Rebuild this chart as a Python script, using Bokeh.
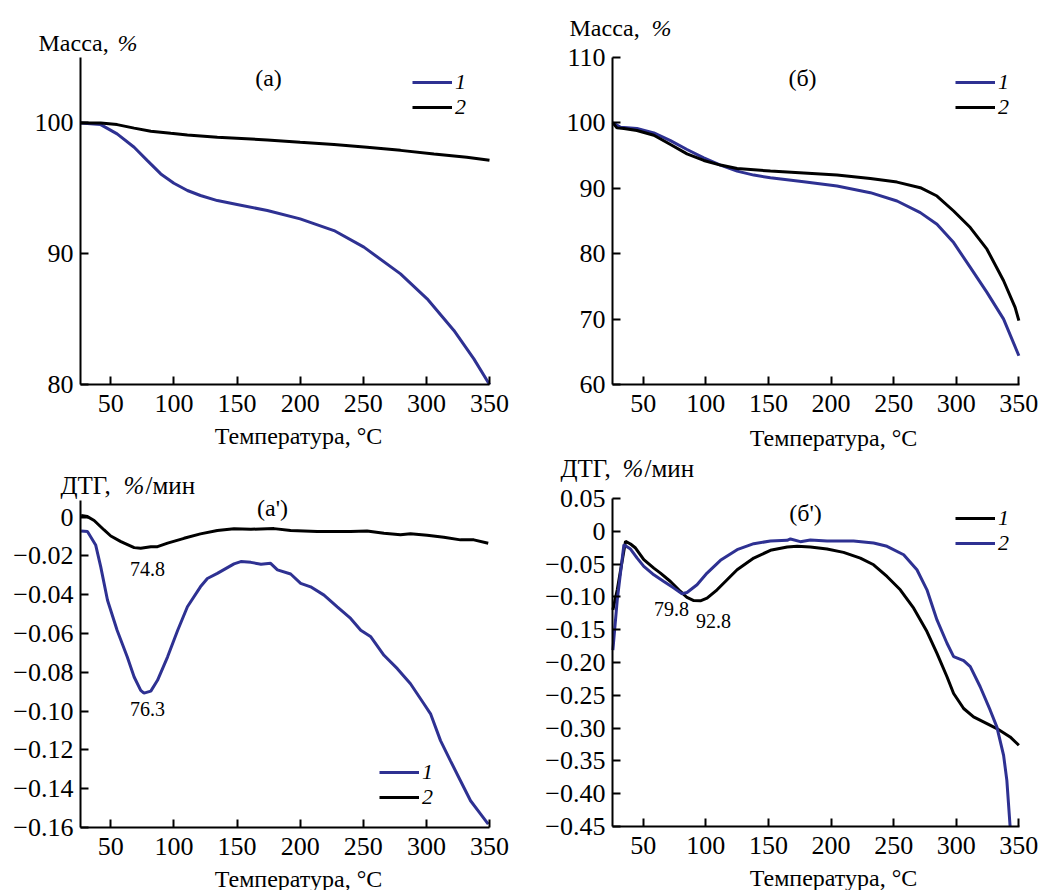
from bokeh.plotting import figure
from bokeh.layouts import column, row
from bokeh.models import (Range1d, FixedTicker, CustomJSTickFormatter, Label,
                          Legend, LegendItem)
from bokeh.embed import file_html
from bokeh.resources import INLINE

# ---------------- data ----------------
# (а) mass loss, %
a_t1 = [26, 42, 55, 68.5, 79, 89.6, 100, 110.7, 121, 134.4, 150, 174, 200, 226.8,
        250.5, 279.5, 300.6, 321.8, 337.6, 350]
a_m1 = [100, 99.87, 99.16, 98.14, 97.12, 96.10, 95.39, 94.83, 94.45, 94.06, 93.76,
        93.30, 92.66, 91.77, 90.50, 88.46, 86.55, 84.13, 81.96, 80.0]
a_t2 = [26, 42, 55, 68.5, 81.7, 97.5, 110.7, 134.4, 174, 200, 226.8, 253, 279.5,
        306, 332, 350]
a_m2 = [100, 100, 99.87, 99.6, 99.36, 99.2, 99.08, 98.9, 98.7, 98.52, 98.34, 98.14,
        97.9, 97.63, 97.38, 97.15]

# (б) mass loss, %
b_t1 = [25.8, 32, 45, 58.5, 71.8, 85, 98.4, 111.7, 125, 138.3, 151.6, 178.2, 204.8,
        231.4, 252.7, 271.3, 284.6, 297.9, 311.2, 324.5, 337.8, 350]
b_m1 = [100, 99.34, 99.14, 98.48, 97.3, 95.93, 94.66, 93.55, 92.63, 92.02, 91.61,
        91.0, 90.34, 89.33, 88.06, 86.28, 84.5, 81.7, 77.9, 74.08, 70.0, 64.4]
b_t2 = [25.8, 29, 34.6, 45, 58.5, 71.8, 85, 98.4, 111.7, 125, 151.6, 178.2, 204.8,
        231.4, 252.7, 271.3, 284.6, 297.9, 311.2, 324.5, 337.8, 347, 350]
b_m2 = [100, 99.24, 99.14, 98.83, 98.12, 96.7, 95.27, 94.26, 93.55, 93.04, 92.63,
        92.33, 92.02, 91.51, 90.95, 90.09, 88.82, 86.53, 84.0, 80.69, 75.86, 71.8, 69.76]

# (а') DTG, %/min
c_t1 = [26.5, 31.5, 38, 42, 47.4, 55, 63, 68.5, 73.7, 76.3, 81.7, 87, 95, 103, 110.7,
        121, 126.5, 134.4, 147.6, 153, 161, 169, 176.6, 182, 192.5, 200.4, 208.3,
        218.9, 229.4, 240, 248, 256, 266.4, 277, 287.4, 298, 303.3, 311.2, 319, 327,
        335, 343, 349]
c_d1 = [-0.0071, -0.0074, -0.0143, -0.0255, -0.0428, -0.0583, -0.072, -0.0824,
        -0.0893, -0.0907, -0.0897, -0.0841, -0.072, -0.0583, -0.0462, -0.0359,
        -0.0316, -0.029, -0.0241, -0.0229, -0.0233, -0.0243, -0.0238, -0.0272,
        -0.0293, -0.0341, -0.0359, -0.0402, -0.0462, -0.0522, -0.0583, -0.0617,
        -0.0712, -0.0781, -0.0859, -0.0962, -0.1014, -0.1152, -0.1255, -0.1359,
        -0.1462, -0.1531, -0.1583]
c_t2 = [26.5, 31.5, 36.8, 44.7, 50, 58, 68.5, 73.7, 81.7, 87, 95, 108, 121, 134.4,
        147.6, 161, 179.3, 192.5, 213.6, 240, 253, 266.4, 279.5, 287.4, 300.6, 313.8,
        327, 337.6, 349]
c_d2 = [0.0009, 0.0003, -0.0017, -0.0066, -0.0097, -0.0126, -0.0157, -0.016,
        -0.0153, -0.0152, -0.0134, -0.0109, -0.0086, -0.0069, -0.006, -0.0062,
        -0.0059, -0.0069, -0.0074, -0.0074, -0.0071, -0.0083, -0.009, -0.0086,
        -0.0093, -0.0103, -0.0117, -0.0117, -0.0134]

# (б') DTG, %/min
d_t1 = [25.8, 29.3, 35.9, 39.9, 43.9, 50.5, 58.5, 63.8, 71.8, 79.8, 85, 90.4, 95.7,
        101, 109, 117, 125, 138.3, 151.6, 165, 172.9, 183.5, 196.8, 210, 223.4, 234,
        244.7, 255.3, 266, 276.6, 284.6, 292.6, 297.9, 305.9, 313.8, 324.5, 332.4,
        343, 350]
d_d1 = [-0.1198, -0.0892, -0.0153, -0.0194, -0.0255, -0.0433, -0.0561, -0.0637,
        -0.0765, -0.0917, -0.1009, -0.1055, -0.106, -0.1019, -0.0892, -0.0739,
        -0.0586, -0.0408, -0.029, -0.024, -0.0229, -0.024, -0.027, -0.0321, -0.0408,
        -0.051, -0.0688, -0.0892, -0.1172, -0.1529, -0.186, -0.2217, -0.2472,
        -0.2701, -0.2829, -0.2931, -0.3007, -0.3135, -0.3262]
d_t2 = [25.8, 29.3, 34.6, 39.9, 45.2, 50.5, 58.5, 66.5, 74.5, 81, 85, 93, 101, 111.7,
        125, 138.3, 151.6, 165, 167.6, 175.5, 183.5, 196.8, 218, 234, 244.7, 258,
        268.6, 276.6, 284.6, 292.6, 297.9, 305.9, 311.2, 319.1, 327.1, 332.4, 337.8,
        340.4, 343]
d_d2 = [-0.181, -0.1045, -0.0204, -0.027, -0.0408, -0.0535, -0.0663, -0.0765,
        -0.0866, -0.0953, -0.0933, -0.0815, -0.0637, -0.0443, -0.028, -0.0189,
        -0.0148, -0.0138, -0.0117, -0.0158, -0.0133, -0.0148, -0.0148, -0.0178,
        -0.0229, -0.0357, -0.0586, -0.0892, -0.1351, -0.1707, -0.1911, -0.1972,
        -0.2064, -0.237, -0.2727, -0.2982, -0.3415, -0.3797, -0.45]

x_ticks = [50, 100, 150, 200, 250, 300, 350]
a_yticks = [80, 90, 100]
b_yticks = [60, 70, 80, 90, 100, 110]
c_yticks = [0, -0.02, -0.04, -0.06, -0.08, -0.10, -0.12, -0.14, -0.16]
d_yticks = [0.05, 0, -0.05, -0.10, -0.15, -0.20, -0.25, -0.30, -0.35, -0.40, -0.45]

x_label = "Температура, °C"
legend_labels = ["1", "2"]

# ---------------- styling ----------------
FONT = "Liberation Serif"
BLUE = "#2e3192"
BLACK = "#000000"
LW = 3
TICK_SIZE = "26px"
TEXT_SIZE = "24px"
LEG_SIZE = "22px"

dtg_fmt = CustomJSTickFormatter(code="""
    if (Math.abs(tick) < 1e-9) return "0";
    const s = Math.abs(tick).toFixed(2);
    return (tick < 0 ? "\u2212" : "") + s;
""")

# axes-box geometry in page pixels: (left, right, top, bottom)
FA = (80, 489, 57, 384)
FB = (612, 1019, 57, 384)
FC = (80, 489, 500, 827)
FD = (612, 1019, 498, 826)

XA = (26, 350)
XB = (25.5, 350.5)
YA = (80, 105)
YB = (60, 110)
YC = (-0.16, 0.0086)
YD = (-0.45, 0.05)

TOP_H = 452          # height of the upper row of figures
BOT_H = 890 - TOP_H  # height of the lower row


class Panel:
    """One quadrant figure whose frame fills the whole figure; the axes are
    placed at fixed data locations and bounded to the axes box."""

    def __init__(self, fig_x, fig_y, w, h, box, xr, yr, yticks, fmt=None):
        self.fig_x, self.fig_y, self.w, self.h = fig_x, fig_y, w, h
        self.box, self.xr, self.yr = box, xr, yr
        l, r, t, b = box
        sx = (xr[1] - xr[0]) / (r - l)
        sy = (yr[1] - yr[0]) / (b - t)
        x0 = xr[0] - (l - fig_x) * sx
        x1 = xr[0] + (fig_x + w - l) * sx
        y1 = yr[0] + (b - fig_y) * sy
        y0 = yr[0] - (fig_y + h - b) * sy
        p = figure(width=w, height=h, output_backend="svg", toolbar_location=None,
                   title=None, x_range=Range1d(x0, x1), y_range=Range1d(y0, y1),
                   min_border_left=0, min_border_right=0,
                   min_border_top=0, min_border_bottom=0)
        p.outline_line_color = None
        p.grid.visible = False
        p.background_fill_color = "white"
        p.border_fill_color = "white"
        for ax in (p.xaxis[0], p.yaxis[0]):
            ax.axis_line_width = 2
            ax.axis_line_color = "black"
            ax.major_tick_in = 8
            ax.major_tick_out = 0
            ax.major_tick_line_width = 2
            ax.minor_tick_line_color = None
            ax.major_label_text_font = FONT
            ax.major_label_text_font_size = TICK_SIZE
            ax.major_label_text_color = "black"
        p.xaxis.ticker = FixedTicker(ticks=x_ticks)
        p.yaxis.ticker = FixedTicker(ticks=yticks)
        p.xaxis.major_label_standoff = 10
        p.yaxis.major_label_standoff = 7
        p.xaxis.fixed_location = yr[0]
        p.yaxis.fixed_location = xr[0]
        p.xaxis.bounds = xr
        p.yaxis.bounds = yr
        if fmt is not None:
            p.yaxis.formatter = fmt
        self.p = p

    def data(self, px, py):
        l, r, t, b = self.box
        x = self.xr[0] + (px - l) / (r - l) * (self.xr[1] - self.xr[0])
        y = self.yr[0] + (b - py) / (b - t) * (self.yr[1] - self.yr[0])
        return x, y

    def text(self, px, py, text, size=TEXT_SIZE, style="normal", align="left"):
        x, y = self.data(px, py)
        self.p.add_layout(Label(x=x, y=y, text=text, text_font=FONT,
                                text_font_size=size, text_font_style=style,
                                text_align=align, text_baseline="middle",
                                text_color="black"))

    def legend_item(self, label, renderer, line_left, row_y):
        # single-item legend; its bottom-left corner in frame pixels
        vx = line_left - self.fig_x
        vy = (self.fig_y + self.h) - (row_y + 13)
        leg = Legend(items=[LegendItem(label=label, renderers=[renderer])],
                     location=(vx, vy), orientation="vertical",
                     label_text_font=FONT, label_text_font_size=LEG_SIZE,
                     label_text_font_style="italic", label_text_color="black",
                     glyph_width=40, glyph_height=20, label_height=20,
                     label_standoff=3, spacing=0, padding=0, margin=0,
                     background_fill_alpha=0, border_line_alpha=0)
        self.p.add_layout(leg)


# ---- (а) ----
A = Panel(0, 0, 520, TOP_H, FA, XA, YA, a_yticks)
ra1 = A.p.line(a_t1, a_m1, line_color=BLUE, line_width=LW)
ra2 = A.p.line(a_t2, a_m2, line_color=BLACK, line_width=LW)
A.legend_item(legend_labels[0], ra1, 412, 82)
A.legend_item(legend_labels[1], ra2, 412, 107)
A.text(38, 42, "Масса,")
A.text(117, 42, "%", style="italic")
A.text(268, 77, "(а)", align="center")
A.text(298, 435, x_label, align="center")

# ---- (б) ----
B = Panel(520, 0, 521, TOP_H, FB, XB, YB, b_yticks)
rb1 = B.p.line(b_t1, b_m1, line_color=BLUE, line_width=LW)
rb2 = B.p.line(b_t2, b_m2, line_color=BLACK, line_width=LW)
B.legend_item(legend_labels[0], rb1, 955, 82)
B.legend_item(legend_labels[1], rb2, 955, 107)
B.text(569, 27, "Масса,")
B.text(651, 27, "%", style="italic")
B.text(802, 77, "(б)", align="center")
B.text(833, 437, x_label, align="center")

# ---- (а') ----
C = Panel(0, TOP_H, 520, BOT_H, FC, XA, YC, c_yticks, dtg_fmt)
rc1 = C.p.line(c_t1, c_d1, line_color=BLUE, line_width=LW)
rc2 = C.p.line(c_t2, c_d2, line_color=BLACK, line_width=LW)
C.legend_item(legend_labels[0], rc1, 379, 772)
C.legend_item(legend_labels[1], rc2, 379, 797)
C.text(60, 485, "ДТГ,", size="25px")
C.text(123, 485, "%", size="25px", style="italic")
C.text(145, 485, "/мин", size="25px")
C.text(272, 507, "(а')", align="center")
C.text(147, 568, "74.8", size="20px", align="center")
C.text(147, 708, "76.3", size="20px", align="center")
C.text(298, 878, x_label, align="center")

# ---- (б') ----
D = Panel(520, TOP_H, 521, BOT_H, FD, XB, YD, d_yticks, dtg_fmt)
rd1 = D.p.line(d_t1, d_d1, line_color=BLACK, line_width=LW)
rd2 = D.p.line(d_t2, d_d2, line_color=BLUE, line_width=LW)
D.legend_item(legend_labels[0], rd1, 955, 518)
D.legend_item(legend_labels[1], rd2, 955, 543)
D.text(560, 468, "ДТГ,", size="25px")
D.text(622, 468, "%", size="25px", style="italic")
D.text(644, 468, "/мин", size="25px")
D.text(805, 512, "(б')", align="center")
D.text(671, 608, "79.8", size="20px", align="center")
D.text(713, 620, "92.8", size="20px", align="center")
D.text(833, 877, x_label, align="center")

layout = column(row(A.p, B.p), row(C.p, D.p))

with open("out.html", "w") as f:
    f.write(file_html(layout, INLINE))
